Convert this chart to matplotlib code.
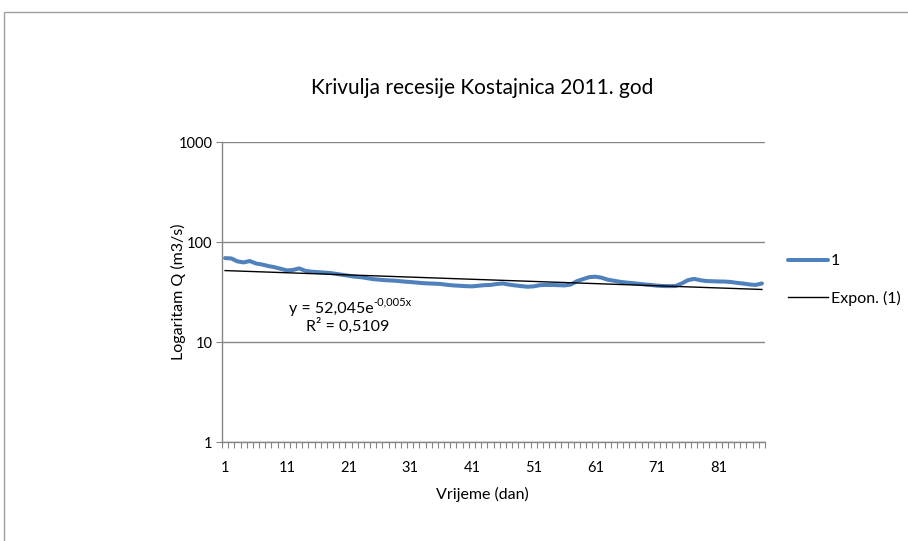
import numpy as np
import matplotlib.pyplot as plt
from matplotlib.patches import Rectangle
from matplotlib.ticker import FixedLocator, NullFormatter

plt.rcParams['font.family'] = ['Lato', 'DejaVu Sans']

# daily discharge (m3/s)
days = np.arange(1, 89)
discharge = [69, 68.5, 64, 62.5, 64.5, 61, 59.5, 57.5, 56, 54,
             52, 52.5, 54.5, 51.5, 50.5, 50, 49.5, 49, 48, 47,
             46, 45, 44.5, 43.5, 42.5, 42, 41.5, 41.2, 40.8, 40.2,
             39.8, 39.3, 38.8, 38.5, 38.3, 38, 37.3, 36.8, 36.5, 36.2,
             36, 36.5, 37, 37.2, 38, 38.5, 37.5, 36.8, 36.2, 35.7,
             36, 37, 37.2, 37.2, 37, 36.8, 37.5, 40.5, 42.5, 44.5,
             45, 44, 42, 41, 40, 39.3, 38.8, 38.2, 37.6, 37.2,
             36.6, 36.3, 36.2, 36.3, 38.5, 41.5, 42.8, 41.5, 40.7, 40.5,
             40.3, 40.2, 39.8, 39, 38.4, 37.6, 37.2, 38.5]

# exponential trendline as reported on the chart
trend_a = 52.045
trend_b = -0.005
r_squared = "0,5109"

xtick_labels = ['1', '11', '21', '31', '41', '51', '61', '71', '81']
ytick_values = [1, 10, 100, 1000]

fig = plt.figure(figsize=(9.08, 5.41), dpi=100)
ax = fig.add_axes([222/908, 1 - 442/541, (765 - 222)/908, 300/541])

trend = trend_a * np.exp(trend_b * days)
ax.plot(days, discharge, color='#4F81BD', lw=2.9, solid_capstyle='round',
        solid_joinstyle='round', label='1', zorder=3)
ax.plot(days, trend, color='black', lw=1, label='Expon. (1)', zorder=4)

ax.set_yscale('log')
ax.set_ylim(1, 1000)
ax.set_xlim(0.5, 88.5)
ax.yaxis.set_major_locator(FixedLocator(ytick_values))
ax.set_yticklabels([str(v) for v in ytick_values])
ax.yaxis.set_minor_locator(FixedLocator([]))
ax.yaxis.set_minor_formatter(NullFormatter())

ax.set_xticks([int(l) for l in xtick_labels])
ax.set_xticklabels(xtick_labels)
ax.xaxis.set_minor_locator(FixedLocator(np.arange(0.5, 89, 1)))

ax.tick_params(axis='x', which='major', length=0, pad=14, labelsize=10.5)
ax.tick_params(axis='x', which='minor', length=4, color='#868686', width=0.8)
ax.tick_params(axis='y', which='major', length=4, color='#868686', width=0.8,
               labelsize=10.5, pad=3)

ax.grid(axis='y', which='major', color='#868686', lw=1)
ax.set_axisbelow(True)
for s in ['top', 'right']:
    ax.spines[s].set_visible(False)
for s in ['left', 'bottom']:
    ax.spines[s].set_color('#868686')
    ax.spines[s].set_linewidth(1)

fig.text(482/908, 1 - 88/541, 'Krivulja recesije Kostajnica 2011. god',
         ha='center', va='center', fontsize=15)
fig.text(482/908, 1 - 494/541, 'Vrijeme (dan)', ha='center', va='center', fontsize=11.5)
fig.text(178/908, 1 - 292/541, 'Logaritam Q (m3/s)', ha='center', va='center',
         rotation=90, fontsize=11.5)

eq = fig.text(289/908, 1 - 313/541, 'y = 52,045e', ha='left', va='baseline', fontsize=11.5)
ax.annotate('-0,005x', xy=(1, 0.62), xycoords=eq, ha='left', va='bottom', fontsize=8)
fig.text(306/908, 1 - 331/541, 'R² = ' + r_squared, ha='left', va='baseline', fontsize=11.5)

fig.legend(loc='center left', bbox_to_anchor=(782/908, 1 - 280/541), frameon=False,
           handlelength=2.5, labelspacing=1.4, handletextpad=0.15, fontsize=11.5,
           borderaxespad=0)

fig.patches.append(Rectangle((4/908, -0.1), 1.2, 1 - 12/541 + 0.1,
                             transform=fig.transFigure, fill=False,
                             edgecolor='#A0A0A0', lw=1))

fig.savefig('out.png', dpi=100)
